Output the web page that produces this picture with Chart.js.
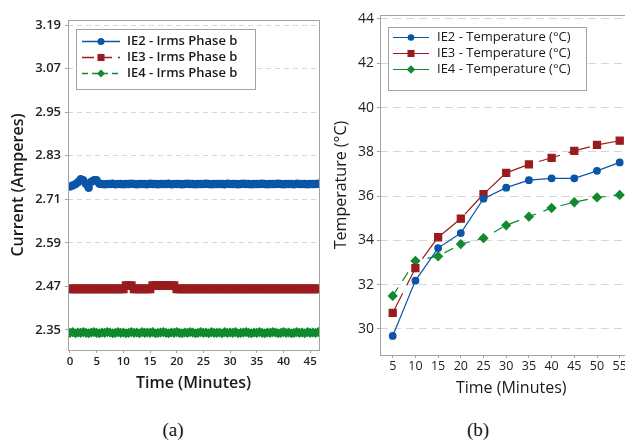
<!DOCTYPE html>
<html>
<head>
<meta charset="utf-8">
<script src="https://cdn.jsdelivr.net/npm/chart.js@4"></script>
<style>
  html, body { margin: 0; padding: 0; background: #fff; }
  body { width: 625px; height: 444px; position: relative; overflow: hidden; }
  .box { position: absolute; top: 0; height: 400px; }
  .cap { position: absolute; top: 419px; width: 60px; text-align: center;
         font-family: "Liberation Serif", serif; font-size: 19px; color: #111; }
</style>
</head>
<body>
<div class="box" style="left:0;width:330px;"><canvas id="left" width="330" height="400"></canvas></div>
<div class="box" style="left:321px;width:330px;"><canvas id="right" width="330" height="400"></canvas></div>
<div class="cap" style="left:143px;">(a)</div>
<div class="cap" style="left:448px;">(b)</div>
<script>
// ---- (a) current, sampled every half minute ----
const times = [0,0.5,1,1.5,2,2.5,3,3.5,4,4.5,5,5.5,6,6.5,7,7.5,8,8.5,9,9.5,
  10,10.5,11,11.5,12,12.5,13,13.5,14,14.5,15,15.5,16,16.5,17,17.5,18,18.5,19,19.5,
  20,20.5,21,21.5,22,22.5,23,23.5,24,24.5,25,25.5,26,26.5,27,27.5,28,28.5,29,29.5,
  30,30.5,31,31.5,32,32.5,33,33.5,34,34.5,35,35.5,36,36.5,37,37.5,38,38.5,39,39.5,
  40,40.5,41,41.5,42,42.5,43,43.5,44,44.5,45,45.5,46,46.5];

const ie2Irms = [2.745,2.748,2.751,2.757,2.765,2.762,2.752,2.742,2.758,2.762,2.762,2.753,
  2.752,2.751,2.752,2.752,2.753,2.751,2.752,2.752,2.751,2.752,
  2.752,2.753,2.752,2.751,2.752,2.752,2.752,2.751,2.753,2.752,
  2.752,2.751,2.752,2.752,2.752,2.753,2.751,2.752,2.752,2.752,
  2.751,2.752,2.753,2.752,2.752,2.751,2.752,2.752,2.752,2.753,
  2.752,2.751,2.752,2.752,2.752,2.752,2.751,2.753,2.752,2.752,
  2.752,2.751,2.752,2.753,2.752,2.752,2.751,2.752,2.752,2.752,
  2.753,2.752,2.751,2.752,2.752,2.752,2.753,2.752,2.751,2.752,
  2.752,2.752,2.751,2.753,2.752,2.752,2.752,2.751,2.752,2.752,
  2.752,2.753];

const ie3Irms = [2.463,2.463,2.463,2.463,2.463,2.463,2.463,2.463,2.463,2.463,
  2.463,2.463,2.463,2.463,2.463,2.463,2.463,2.463,2.463,2.463,2.463,
  2.472,2.472,2.472,
  2.463,2.463,2.463,2.463,2.463,2.463,2.463,
  2.472,2.472,2.472,2.472,2.472,2.472,2.472,2.472,2.472,
  2.463,2.463,2.463,2.463,2.463,2.463,2.463,2.463,2.463,2.463,
  2.463,2.463,2.463,2.463,2.463,2.463,2.463,2.463,2.463,2.463,
  2.463,2.463,2.463,2.463,2.463,2.463,2.463,2.463,2.463,2.463,
  2.463,2.463,2.463,2.463,2.463,2.463,2.463,2.463,2.463,2.463,
  2.463,2.463,2.463,2.463,2.463,2.463,2.463,2.463,2.463,2.463,
  2.463,2.463,2.463,2.463];

const ie4Irms = [2.342,2.344,2.341,2.343,2.342,2.344,2.342,2.341,2.343,2.344,
  2.342,2.341,2.343,2.342,2.344,2.343,2.341,2.342,2.344,2.342,
  2.343,2.341,2.342,2.344,2.342,2.343,2.341,2.344,2.342,2.343,
  2.342,2.344,2.341,2.342,2.343,2.344,2.342,2.341,2.343,2.342,
  2.344,2.342,2.341,2.343,2.342,2.344,2.343,2.341,2.342,2.344,
  2.342,2.343,2.341,2.344,2.342,2.342,2.343,2.341,2.344,2.342,
  2.343,2.342,2.344,2.341,2.342,2.343,2.344,2.342,2.341,2.343,
  2.342,2.344,2.342,2.341,2.343,2.342,2.344,2.343,2.341,2.342,
  2.344,2.342,2.343,2.341,2.342,2.344,2.342,2.343,2.341,2.344,
  2.342,2.343,2.342,2.344];

const currentTicks = [2.35, 2.47, 2.59, 2.71, 2.83, 2.95, 3.07, 3.19];
const timeTicksA = [0, 5, 10, 15, 20, 25, 30, 35, 40, 45];

// ---- (b) temperature every 5 minutes ----
const tempTimes = [5, 10, 15, 20, 25, 30, 35, 40, 45, 50, 55];
const ie2Temp = [29.68, 32.18, 33.65, 34.33, 35.88, 36.38, 36.72, 36.80, 36.80, 37.14, 37.52];
const ie3Temp = [30.72, 32.74, 34.14, 34.98, 36.09, 37.05, 37.43, 37.73, 38.04, 38.31, 38.50];
const ie4Temp = [31.49, 33.07, 33.28, 33.83, 34.10, 34.68, 35.07, 35.46, 35.72, 35.94, 36.05];
const tempTicks = [30, 32, 34, 36, 38, 40, 42, 44];
const timeTicksB = [5, 10, 15, 20, 25, 30, 35, 40, 45, 50, 55];

const BLUE = '#0b55a8', RED = '#9a1b1e', GREEN = '#118a2f';
const FONT = '"Open Sans", "Noto Sans", sans-serif';
const pair = (xs, ys) => xs.map((x, i) => ({ x: x, y: ys[i] }));

// grey frame round the plot area
const frame = {
  id: 'frame',
  afterDatasetsDraw(chart) {
    const a = chart.chartArea, ctx = chart.ctx;
    ctx.save();
    ctx.strokeStyle = '#a3a3a3';
    ctx.lineWidth = 1;
    ctx.strokeRect(Math.round(a.left) + 0.5, Math.round(a.top) + 0.5,
      Math.round(a.right - a.left), Math.round(a.bottom - a.top));
    ctx.restore();
  }
};

function marker(ctx, style, x, y, r, color) {
  ctx.fillStyle = color;
  ctx.beginPath();
  if (style === 'rect') {
    const s = r * Math.SQRT1_2;
    ctx.rect(x - s, y - s, 2 * s, 2 * s);
  } else if (style === 'rectRot') {
    ctx.moveTo(x, y - r); ctx.lineTo(x + r, y); ctx.lineTo(x, y + r); ctx.lineTo(x - r, y);
    ctx.closePath();
  } else {
    ctx.arc(x, y, r, 0, Math.PI * 2);
  }
  ctx.fill();
}

// legend box drawn inside the plot
const boxLegend = {
  id: 'boxLegend',
  afterDraw(chart, args, o) {
    const ctx = chart.ctx;
    ctx.save();
    ctx.fillStyle = '#fff';
    ctx.fillRect(o.x, o.y, o.w, o.h);
    ctx.strokeStyle = '#a3a3a3';
    ctx.lineWidth = 1;
    ctx.strokeRect(o.x + 0.5, o.y + 0.5, o.w, o.h);
    chart.data.datasets.forEach((ds, i) => {
      const cy = o.rowY + i * o.rowGap;
      ctx.strokeStyle = ds.borderColor;
      ctx.lineWidth = ds.borderWidth;
      ctx.setLineDash(ds.legendDash || []);
      ctx.beginPath();
      ctx.moveTo(o.lineX0, cy + 0.5);
      ctx.lineTo(o.lineX1, cy + 0.5);
      ctx.stroke();
      ctx.setLineDash([]);
      marker(ctx, ds.pointStyle, (o.lineX0 + o.lineX1) / 2, cy + 0.5, ds.pointRadius, ds.backgroundColor);
      ctx.fillStyle = '#1a1a1a';
      ctx.font = o.font;
      ctx.textBaseline = 'middle';
      ctx.fillText(ds.label, o.textX, cy);
    });
    ctx.restore();
  }
};

const fixedTicks = arr => scale => { scale.ticks = arr.map(v => ({ value: v })); };

new Chart(document.getElementById('left'), {
  type: 'line',
  data: {
    datasets: [
      { label: 'IE2 - Irms Phase b', data: pair(times, ie2Irms), borderColor: BLUE, backgroundColor: BLUE,
        borderWidth: 1.5, pointStyle: 'circle', pointRadius: 3.5, legendDash: [] },
      { label: 'IE3 - Irms Phase b', data: pair(times, ie3Irms), borderColor: RED, backgroundColor: RED,
        borderWidth: 1.5, borderDash: [12, 5], pointStyle: 'rect', pointRadius: 5, legendDash: [12, 6] },
      { label: 'IE4 - Irms Phase b', data: pair(times, ie4Irms), borderColor: GREEN, backgroundColor: GREEN,
        borderWidth: 1.5, borderDash: [6, 4], pointStyle: 'rectRot', pointRadius: 4, legendDash: [6, 4] }
    ]
  },
  options: {
    responsive: false,
    animation: false,
    layout: { padding: { left: 0, top: 20, right: 11, bottom: 0 } },
    elements: { point: { borderWidth: 0 }, line: { tension: 0 } },
    scales: {
      x: {
        type: 'linear', min: -0.37, max: 46.65,
        afterBuildTicks: fixedTicks(timeTicksA),
        afterFit: s => { s.height = 50; },
        grid: { drawOnChartArea: false, tickLength: 3, tickColor: '#a3a3a3' },
        border: { display: false },
        ticks: { color: '#222', padding: 2, maxRotation: 0, font: { family: FONT, size: 11.5, weight: '600' } },
        title: { display: true, text: 'Time (Minutes)', color: '#1a1a1a', padding: { top: 0, bottom: 7 },
          font: { family: FONT, size: 16, weight: '600' } }
      },
      y: {
        min: 2.2947, max: 3.2038,
        afterBuildTicks: fixedTicks(currentTicks),
        afterFit: s => { s.width = 68; },
        grid: { color: '#d6d6d6', tickLength: 3, tickColor: '#a3a3a3' },
        border: { display: false, dash: [5, 4] },
        ticks: { color: '#222', padding: 4, font: { family: FONT, size: 13, weight: '600' },
          callback: v => v.toFixed(2) },
        title: { display: true, text: 'Current (Amperes)', color: '#1a1a1a', padding: { top: 9, bottom: 0 },
          font: { family: FONT, size: 16, weight: '600' } }
      }
    },
    plugins: {
      legend: { display: false },
      tooltip: { enabled: false },
      boxLegend: { x: 76, y: 29, w: 179, h: 60, rowY: 41, rowGap: 16, lineX0: 82, lineX1: 120, textX: 127,
        font: '600 13px ' + FONT }
    }
  },
  plugins: [frame, boxLegend]
});

new Chart(document.getElementById('right'), {
  type: 'line',
  data: {
    datasets: [
      { label: 'IE2 - Temperature (°C)', data: pair(tempTimes, ie2Temp), borderColor: BLUE, backgroundColor: BLUE,
        borderWidth: 1.2, pointStyle: 'circle', pointRadius: 3.3, legendDash: [] },
      { label: 'IE3 - Temperature (°C)', data: pair(tempTimes, ie3Temp), borderColor: RED, backgroundColor: RED,
        borderWidth: 1.2, borderDash: [22, 9], pointStyle: 'rect', pointRadius: 5, legendDash: [] },
      { label: 'IE4 - Temperature (°C)', data: pair(tempTimes, ie4Temp), borderColor: GREEN, backgroundColor: GREEN,
        borderWidth: 1.2, borderDash: [10, 8], pointStyle: 'rectRot', pointRadius: 4.3, legendDash: [] }
    ]
  },
  options: {
    responsive: false,
    animation: false,
    layout: { padding: { left: 0, top: 15, right: 8.6, bottom: 0 } },
    elements: { point: { borderWidth: 0 }, line: { tension: 0 } },
    scales: {
      x: {
        type: 'linear', min: 2.2, max: 60,
        afterBuildTicks: fixedTicks(timeTicksB),
        afterFit: s => { s.height = 45; },
        grid: { drawOnChartArea: false, tickLength: 3, tickColor: '#a3a3a3' },
        border: { display: false },
        ticks: { color: '#222', padding: 1, maxRotation: 0, autoSkip: false, font: { family: FONT, size: 12.5 } },
        title: { display: true, text: 'Time (Minutes)', color: '#1a1a1a', padding: { top: 0, bottom: 2.4 },
          font: { family: FONT, size: 16 } }
      },
      y: {
        min: 28.82, max: 44.18,
        afterBuildTicks: fixedTicks(tempTicks),
        afterFit: s => { s.width = 59; },
        grid: { color: '#d6d6d6', tickLength: 3, tickColor: '#a3a3a3' },
        border: { display: false, dash: [8, 5] },
        ticks: { color: '#222', padding: 3, font: { family: FONT, size: 14 } },
        title: { display: true, text: 'Temperature (°C)', color: '#1a1a1a', padding: { top: 11, bottom: 0 },
          font: { family: FONT, size: 16 } }
      }
    },
    plugins: {
      legend: { display: false },
      tooltip: { enabled: false },
      boxLegend: { x: 67, y: 27, w: 198, h: 63, rowY: 37, rowGap: 16, lineX0: 72, lineX1: 108, textX: 116,
        font: '13px ' + FONT }
    }
  },
  plugins: [frame, boxLegend]
});
</script>
</body>
</html>
